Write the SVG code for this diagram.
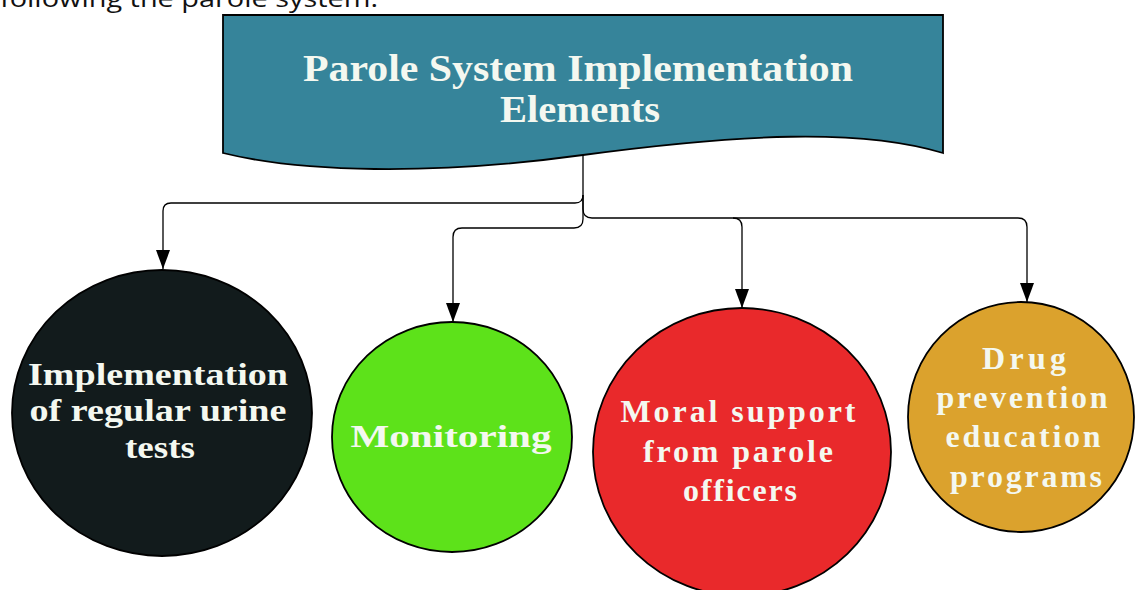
<svg xmlns="http://www.w3.org/2000/svg" width="1137" height="590" viewBox="0 0 1137 590">
  <defs>
    <marker id="arrow" markerUnits="userSpaceOnUse" markerWidth="20" markerHeight="14" refX="19" refY="7" orient="auto" viewBox="0 0 20 14">
      <path d="M0,0 L19,7 L0,14 Z" fill="#000"/>
    </marker>
    <style>
      .lead { font-family: "Open Sans", "Liberation Sans", sans-serif; font-size: 23px; fill: #111; }
      .title { font-family: "Liberation Serif", "DejaVu Serif", serif; font-weight: bold; font-size: 38px; fill: #F4F8F0; text-anchor: middle; }
      .label { font-family: "Liberation Serif", "DejaVu Serif", serif; font-weight: bold; font-size: 32px; fill: #F4F8F0; text-anchor: middle; }
      .spaced { font-size: 32px; }
      .conn { fill: none; stroke: #000; stroke-width: 1.3; }
      .node { stroke: #000; stroke-width: 1.8; }
    </style>
  </defs>

  <rect width="1137" height="590" fill="#fff"/>

  <!-- running text above the chart -->
  <text class="lead" x="0" y="7" textLength="378" lengthAdjust="spacingAndGlyphs">following the parole system.</text>

  <!-- connectors -->
  <g id="connectors">
    <path class="conn" d="M583,155 V195 Q583,203 575,203 H171 Q163,203 163,211 V269" marker-end="url(#arrow)"/>
    <path class="conn" d="M583,195 V219 Q583,228 574,228 H462 Q453,228 453,237 V322" marker-end="url(#arrow)"/>
    <path class="conn" d="M583,195 V209 Q583,218 592,218 H733 Q742,218 742,227 V308" marker-end="url(#arrow)"/>
    <path class="conn" d="M733,218 H1018 Q1027,218 1027,227 V302" marker-end="url(#arrow)"/>
  </g>

  <!-- banner -->
  <g id="banner">
    <path class="node" d="M223,15 H943 V153 C860,128 740,134 583,155 C430,176 300,172 223,153 Z" fill="#36849A"/>
    <text class="title" x="578" y="81" textLength="550" lengthAdjust="spacingAndGlyphs">Parole System Implementation</text>
    <text class="title" x="580" y="122" textLength="160" lengthAdjust="spacingAndGlyphs">Elements</text>
  </g>

  <!-- urine tests -->
  <g id="node-urine">
    <ellipse class="node" cx="162" cy="413" rx="150" ry="143" fill="#121B1C"/>
    <text class="label" x="158" y="385" textLength="260" lengthAdjust="spacingAndGlyphs">Implementation</text>
    <text class="label" x="158" y="421" textLength="257" lengthAdjust="spacingAndGlyphs">of regular urine</text>
    <text class="label" x="160" y="458" textLength="70" lengthAdjust="spacingAndGlyphs">tests</text>
  </g>

  <!-- monitoring -->
  <g id="node-monitoring">
    <ellipse class="node" cx="452" cy="437" rx="120" ry="115" fill="#5DE21A"/>
    <text class="label" x="451" y="447" textLength="201" lengthAdjust="spacingAndGlyphs">Monitoring</text>
  </g>

  <!-- moral support -->
  <g id="node-support">
    <ellipse class="node" cx="742" cy="452" rx="149" ry="144" fill="#E9292B"/>
    <text class="label spaced" x="738" y="422" textLength="235">Moral support</text>
    <text class="label spaced" x="738" y="462" textLength="190">from parole</text>
    <text class="label spaced" x="740" y="501" textLength="114">officers</text>
  </g>

  <!-- drug prevention -->
  <g id="node-education">
    <ellipse class="node" cx="1021" cy="417" rx="113" ry="115" fill="#DBA22D"/>
    <text class="label spaced" x="1024" y="369" textLength="84">Drug</text>
    <text class="label spaced" x="1022" y="408" textLength="171">prevention</text>
    <text class="label spaced" x="1023" y="447" textLength="155">education</text>
    <text class="label spaced" x="1026" y="487" textLength="152">programs</text>
  </g>
</svg>
